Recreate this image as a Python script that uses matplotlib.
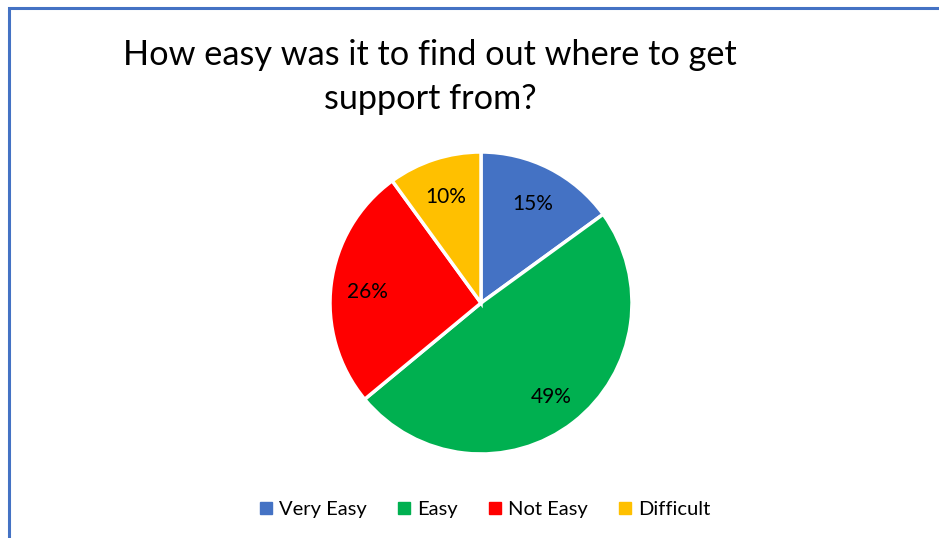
import matplotlib
matplotlib.use("Agg")
import matplotlib.pyplot as plt
import numpy as np
from matplotlib.patches import Rectangle
from matplotlib.lines import Line2D

labels = ["Very Easy", "Easy", "Not Easy", "Difficult"]
shares = [15, 49, 26, 10]
colors = ["#4472C4", "#00B050", "#FF0000", "#FFC000"]
title = "How easy was it to find out where to get\nsupport from?"

plt.rcParams['font.family'] = ['Lato', 'DejaVu Sans']

W, H = 939, 538
fig = plt.figure(figsize=(W / 100, H / 100), dpi=100)

# pie centred at (481, 303) px, radius ~151 px
r = 151
cx, cy = 481, 303
ax = fig.add_axes([(cx - r) / W, (H - cy - r) / H, 2 * r / W, 2 * r / H])
wedges, texts = ax.pie(shares, colors=colors, startangle=90, counterclock=False,
                       wedgeprops=dict(edgecolor="white", linewidth=2.5))
for w, v in zip(wedges, shares):
    ang = np.deg2rad((w.theta1 + w.theta2) / 2)
    ax.text(0.76 * np.cos(ang), 0.76 * np.sin(ang) - 0.02, f"{v}%",
            ha="center", va="center", fontsize=15, color="#000000")
ax.set_xlim(-1, 1)
ax.set_ylim(-1, 1)
ax.set_aspect("equal")
ax.axis("off")

fig.text(430 / W, 1 - 77 / H, title, ha="center", va="center",
         fontsize=24.7, linespacing=1.45, color="#000000")

handles = [Line2D([], [], marker="s", linestyle="none", markersize=8,
                  markerfacecolor=c, markeredgecolor=c) for c in colors]
fig.legend(handles, labels, loc="center", bbox_to_anchor=(483 / W, 1 - 509 / H),
           ncol=4, frameon=False, fontsize=14.5, handletextpad=0.15,
           columnspacing=1.35, handlelength=1.0)

# chart-area outline running off the right and bottom edges
fig.patches.append(Rectangle((8.5 / W, -0.1), 1.2, 1.1 - 8.5 / H,
                             transform=fig.transFigure, fill=False,
                             edgecolor="#4472C4", linewidth=2.2))

fig.savefig("out.png", dpi=100)
